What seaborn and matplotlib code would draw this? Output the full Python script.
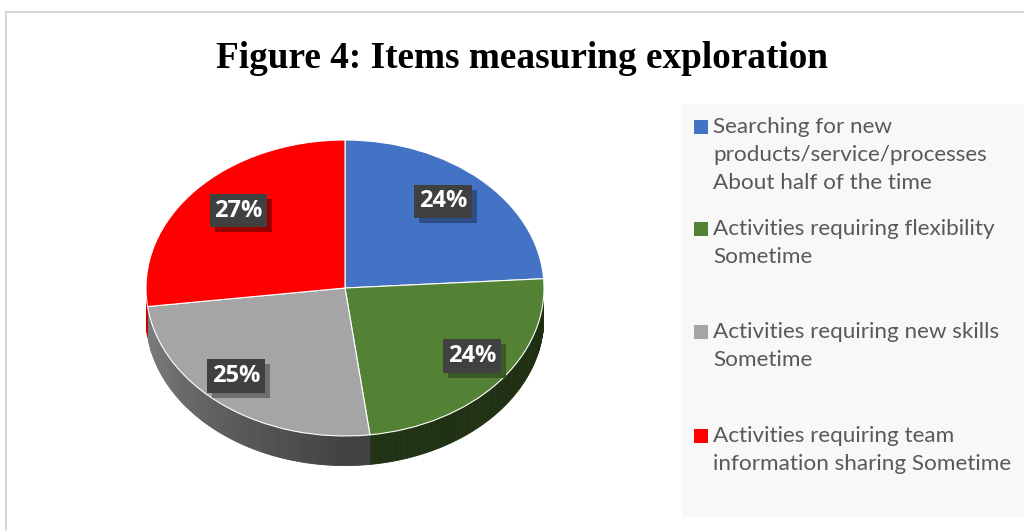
import numpy as np
import matplotlib
matplotlib.use("Agg")
import matplotlib.pyplot as plt
from matplotlib.patches import Rectangle, Polygon
from matplotlib import transforms
import seaborn as sns

# --- data -------------------------------------------------------------
items = [
    "Searching for new\nproducts/service/processes\nAbout half of the time",
    "Activities requiring flexibility\nSometime",
    "Activities requiring new skills\nSometime",
    "Activities requiring team\ninformation sharing Sometime",
]
shares = [24, 24, 25, 27]
slice_colors = ["#4472C4", "#548235", "#A5A5A5", "#FF0000"]
shadow_colors = ["#2E4E88", "#3A5A25", "#6E6E6E", "#9A0000"]
title = "Figure 4: Items measuring exploration"

sns.set_theme(style="white")
plt.rcParams["font.family"] = ["Lato", "DejaVu Sans"]
palette = sns.color_palette(slice_colors)

W, H = 1024, 531
fig = plt.figure(figsize=(W / 100, H / 100), dpi=100)
fig.patch.set_facecolor("white")


def fx(px):
    return px / W


def fy(py):
    return 1 - py / H


# chart-area frame (top and left edges visible)
fig.patches.append(Rectangle((fx(6), fy(560)), fx(1100), fy(12) - fy(560),
                             transform=fig.transFigure, fill=False,
                             edgecolor="#D0D0D0", linewidth=1.2))

fig.text(fx(522), fy(59), title, ha="center", va="center",
         fontsize=26.8, fontweight="bold", family="Liberation Serif", color="black")

# pie axes: 1 data unit = 199 px horizontally, 148 px vertically
cx, cy, rx, ry = 345, 288, 199, 148
top_px, bot_px = 130, 485
ax = fig.add_axes([fx(cx - rx), fy(bot_px), 2 * rx / W, (bot_px - top_px) / H])

depth = 0.2
start = 90.0
total = float(sum(shares))
bounds = []
a = start
for v in shares:
    a2 = a - 360.0 * v / total
    bounds.append((a2, a))
    a = a2

# side wall of the disc, shaded strip by strip
for (lo, hi), col in zip(bounds, palette):
    base = np.array(col)
    for t0 in np.arange(np.floor(lo), hi, 1.0):
        t1 = min(t0 + 1.0, hi)
        t0c = max(t0, lo)
        tm = np.radians(0.5 * (t0c + t1)) % (2 * np.pi)
        if not (np.pi <= tm <= 2 * np.pi):
            continue
        ang = np.degrees(tm)
        if ang <= 270:
            f = 0.8 - 0.4 * (ang - 180) / 90
        else:
            f = 0.4 - 0.05 * (ang - 270) / 90
        ts = np.radians([t0c, t1])
        pts = [(np.cos(ts[0]), np.sin(ts[0])), (np.cos(ts[1]), np.sin(ts[1])),
               (np.cos(ts[1]), np.sin(ts[1]) - depth), (np.cos(ts[0]), np.sin(ts[0]) - depth)]
        shade = np.clip(base * f, 0, 1)
        ax.add_patch(Polygon(pts, closed=True, facecolor=shade,
                             edgecolor=shade, linewidth=0.6, zorder=1))

label_font = dict(fontsize=17, fontweight="bold", family="Open Sans")
wedges, _, autotexts = ax.pie(
    shares, colors=palette, startangle=start, counterclock=False,
    autopct=lambda p: f"{p:.0f}%", pctdistance=0.72,
    wedgeprops=dict(linewidth=0.8, edgecolor="white", zorder=2),
    textprops=dict(color="white", **label_font),
    frame=True,
)
ax.set_xlim(-1, 1)
ax.set_ylim(-(bot_px - cy) / ry, (cy - top_px) / ry)
ax.set_aspect("auto")
ax.axis("off")

# small per-label nudges (pixels) for the tilted view
nudges = [(0, 9), (17, 0), (-21, -4), (1, 7)]
for txt, (dx, dy) in zip(autotexts, nudges):
    txt.set_transform(transforms.offset_copy(ax.transData, fig=fig, x=dx, y=dy, units="dots"))
    txt.set_zorder(6)
    txt.set_bbox(dict(boxstyle="square,pad=0.2", facecolor="#404040", edgecolor="none"))

# drop shadows behind the label boxes
fig.canvas.draw()
for txt, sh in zip(autotexts, shadow_colors):
    bb = txt.get_bbox_patch().get_window_extent()
    ax.add_patch(Rectangle((bb.x0 + 5, bb.y0 - 5), bb.width, bb.height,
                           transform=None, facecolor=sh, edgecolor="none", zorder=5))

# legend panel
fig.patches.append(Rectangle((fx(682), fy(517)), fx(400), fy(104) - fy(517),
                             transform=fig.transFigure, facecolor="#F8F8F8",
                             edgecolor="none", zorder=0))
entry_tops = [127, 229, 332, 436]
for lab, col, y0 in zip(items, palette, entry_tops):
    fig.patches.append(Rectangle((fx(694), fy(y0 + 7)), fx(14), fy(y0 - 7) - fy(y0 + 7),
                                 transform=fig.transFigure, facecolor=col,
                                 edgecolor="none", zorder=2))
    fig.text(fx(713), fy(y0 - 10), lab, ha="left", va="top", fontsize=16.2,
             color="#595959", linespacing=1.5, family="Lato")

fig.savefig("out.png", dpi=100)
